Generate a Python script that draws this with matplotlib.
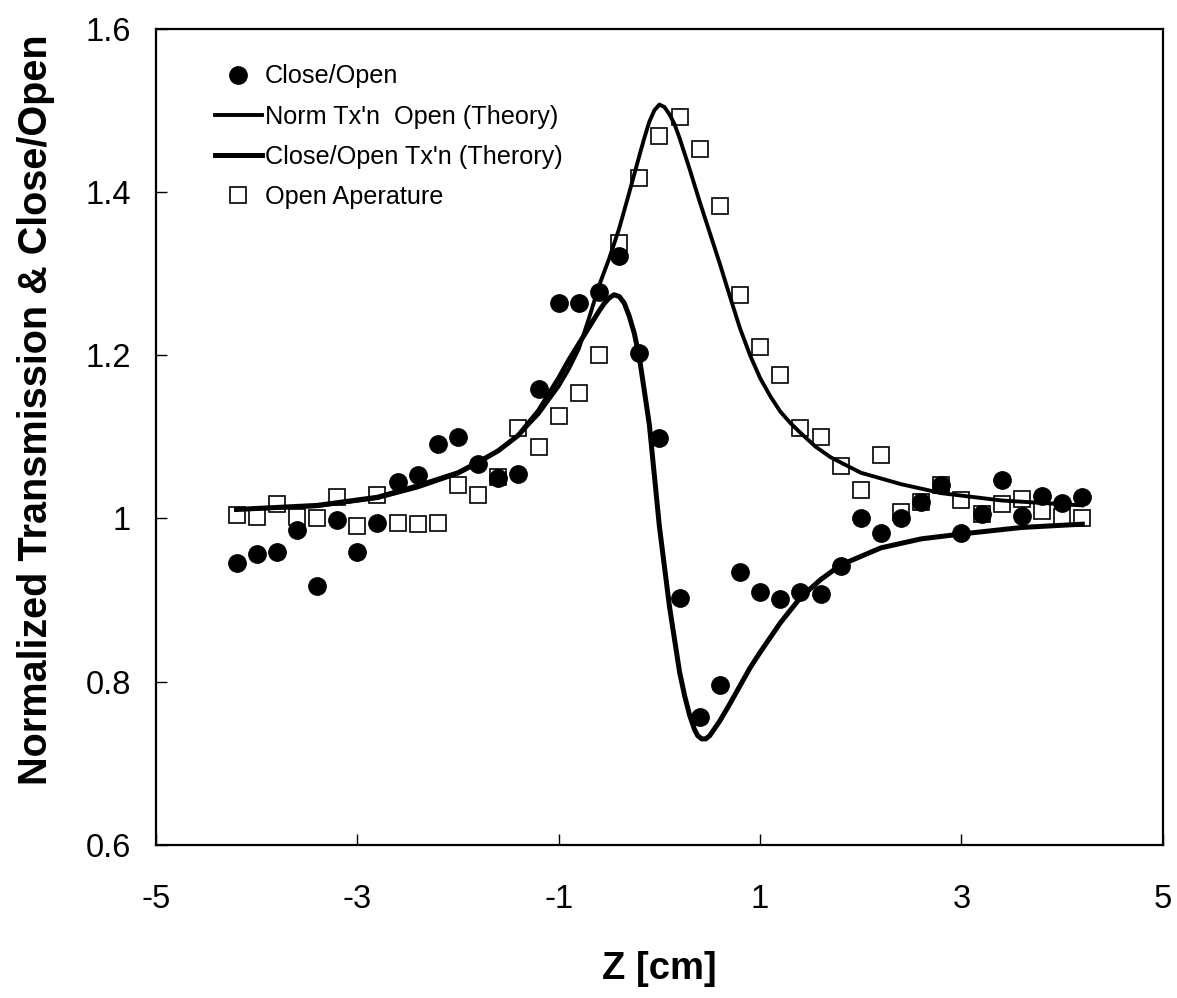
import matplotlib
matplotlib.use("Agg")
import matplotlib.pyplot as plt
from matplotlib.lines import Line2D

plt.rcParams['font.family'] = ['Liberation Sans', 'DejaVu Sans']

z_data = [-4.2, -4.0, -3.8, -3.6, -3.4, -3.2, -3.0, -2.8, -2.6, -2.4, -2.2,
          -2.0, -1.8, -1.6, -1.4, -1.2, -1.0, -0.8, -0.6, -0.4, -0.2, 0.0,
          0.2, 0.4, 0.6, 0.8, 1.0, 1.2, 1.4, 1.6, 1.8, 2.0, 2.2, 2.4, 2.6,
          2.8, 3.0, 3.2, 3.4, 3.6, 3.8, 4.0, 4.2]

close_open = [0.946, 0.957, 0.959, 0.986, 0.917, 0.998, 0.959, 0.994, 1.045,
              1.053, 1.091, 1.100, 1.067, 1.050, 1.055, 1.158, 1.264, 1.264,
              1.278, 1.321, 1.203, 1.099, 0.903, 0.757, 0.796, 0.935, 0.910,
              0.901, 0.910, 0.908, 0.942, 1.001, 0.982, 1.001, 1.020, 1.041,
              0.982, 1.006, 1.047, 1.003, 1.028, 1.019, 1.026]

open_ap = [1.004, 1.002, 1.018, 1.002, 1.001, 1.026, 0.991, 1.029, 0.995,
           0.993, 0.995, 1.041, 1.029, 1.051, 1.111, 1.088, 1.125, 1.154,
           1.200, 1.337, 1.417, 1.468, 1.492, 1.452, 1.383, 1.274, 1.210,
           1.176, 1.111, 1.100, 1.064, 1.035, 1.078, 1.008, 1.020, 1.041,
           1.023, 1.006, 1.018, 1.024, 1.009, 1.002, 1.001]

# ---- theory curves ----
z_open_th = [-4.2, -3.4, -2.8, -2.4, -2.0, -1.8, -1.6, -1.4, -1.2, -1.0,
             -0.9, -0.8, -0.7, -0.6, -0.5, -0.4, -0.3, -0.2, -0.15, -0.1,
             -0.05, 0.0, 0.05, 0.1, 0.15, 0.2, 0.3, 0.4, 0.5, 0.6, 0.7, 0.8,
             0.9, 1.0, 1.1, 1.2, 1.3, 1.4, 1.55, 1.7, 2.0, 2.4, 2.8, 3.4, 4.2]
open_th = [1.011, 1.015, 1.025, 1.038, 1.055, 1.068, 1.083, 1.102, 1.128,
           1.162, 1.183, 1.208, 1.245, 1.285, 1.318, 1.355, 1.399, 1.444,
           1.466, 1.486, 1.500, 1.507, 1.504, 1.495, 1.483, 1.466, 1.428,
           1.388, 1.350, 1.312, 1.272, 1.233, 1.200, 1.172, 1.150, 1.131,
           1.117, 1.105, 1.088, 1.075, 1.056, 1.042, 1.031, 1.022, 1.016]

z_close_th = [-4.2, -3.4, -2.8, -2.4, -2.0, -1.8, -1.6, -1.4, -1.2, -1.0,
              -0.9, -0.8, -0.7, -0.6, -0.55, -0.5, -0.45, -0.4, -0.35, -0.3,
              -0.25, -0.2, -0.1, 0.0, 0.1, 0.2, 0.25, 0.3, 0.35, 0.38, 0.42,
              0.46, 0.5, 0.6, 0.7, 0.8, 0.9, 1.0, 1.2, 1.4, 1.6, 1.8, 2.2,
              2.6, 3.0, 3.6, 4.2]
close_th = [1.011, 1.016, 1.026, 1.040, 1.056, 1.069, 1.083, 1.102, 1.132,
            1.172, 1.194, 1.214, 1.234, 1.254, 1.263, 1.270, 1.274, 1.272,
            1.264, 1.248, 1.227, 1.198, 1.115, 0.990, 0.892, 0.812, 0.783,
            0.759, 0.741, 0.734, 0.730, 0.730, 0.734, 0.752, 0.773, 0.795,
            0.817, 0.836, 0.872, 0.903, 0.925, 0.943, 0.964, 0.975, 0.981,
            0.989, 0.993]

x_ticks = [-5, -3, -1, 1, 3, 5]
y_ticks = [0.6, 0.8, 1.0, 1.2, 1.4, 1.6]
y_tick_labels = ['0.6', '0.8', '1', '1.2', '1.4', '1.6']

fig = plt.figure(figsize=(11.77, 9.98), dpi=100)
ax = fig.add_axes([0.1325, 0.1533, 0.8555, 0.818])

ax.plot(z_data, open_ap, linestyle='none', marker='s', markersize=11,
        markerfacecolor='white', markeredgecolor='black', markeredgewidth=1.2,
        zorder=2)
ax.plot(z_open_th, open_th, color='black', linewidth=2.8, zorder=3,
        solid_joinstyle='round')
ax.plot(z_close_th, close_th, color='black', linewidth=3.6, zorder=3,
        solid_joinstyle='round')
ax.plot(z_data, close_open, linestyle='none', marker='o', markersize=12.5,
        color='black', zorder=4)

ax.set_xlim(-5, 5)
ax.set_ylim(0.6, 1.6)
ax.set_xticks(x_ticks)
ax.set_xticklabels([str(t) for t in x_ticks])
ax.set_yticks(y_ticks)
ax.set_yticklabels(y_tick_labels)
ax.tick_params(axis='both', direction='in', labelsize=23.5, width=1, length=8)
ax.tick_params(axis='x', pad=28)
ax.tick_params(axis='y', pad=18)
for sp in ax.spines.values():
    sp.set_linewidth(1.6)

ax.set_xlabel('Z [cm]', fontsize=27.5, fontweight='bold', labelpad=26)
ax.set_ylabel('Normalized Transmission & Close/Open', fontsize=28.5,
              fontweight='bold')
ax.yaxis.set_label_coords(-0.1, 0.533)

handles = [
    Line2D([], [], linestyle='none', marker='o', markersize=12.5, color='black'),
    Line2D([], [], color='black', linewidth=2.8),
    Line2D([], [], color='black', linewidth=3.6),
    Line2D([], [], linestyle='none', marker='s', markersize=11,
           markerfacecolor='white', markeredgecolor='black', markeredgewidth=1.2),
]
labels = ['Close/Open', "Norm Tx'n  Open (Theory)", "Close/Open Tx'n (Therory)",
          'Open Aperature']
ax.legend(handles, labels, loc='upper left', bbox_to_anchor=(0.036, 0.984),
          frameon=False, fontsize=18.2, handlelength=1.85, handletextpad=0.12,
          labelspacing=0.64)

fig.savefig('out.png', dpi=100)
